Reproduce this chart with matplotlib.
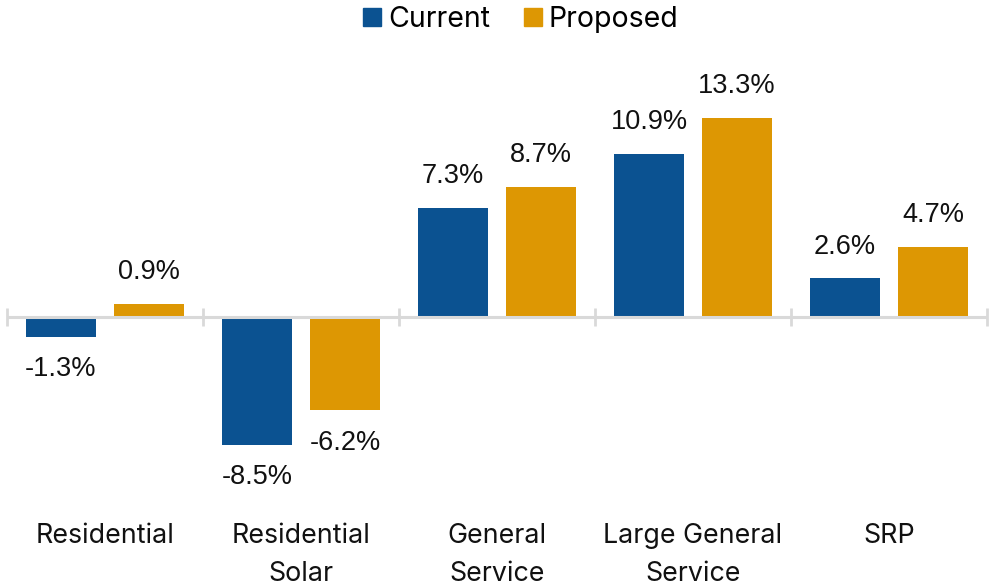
import matplotlib
matplotlib.use("Agg")
import matplotlib.pyplot as plt
from matplotlib.lines import Line2D
import numpy as np

categories = ["Residential", "Residential\nSolar", "General\nService", "Large General\nService", "SRP"]
current = [-1.3, -8.5, 7.3, 10.9, 2.6]
proposed = [0.9, -6.2, 8.7, 13.3, 4.7]
series_names = ["Current", "Proposed"]
colors = ["#0B5291", "#DD9703"]

cat_font = "Inter"
num_font = "Liberation Sans"

fig = plt.figure(figsize=(9.91, 5.85), dpi=100)
ax = fig.add_axes([7/991, (585-497)/585, 980/991, (497-62)/585])

x = np.arange(len(categories))
w = 0.357
off = 0.2245

for vals, dx, col in [(current, -off, colors[0]), (proposed, off, colors[1])]:
    ax.bar(x + dx, vals, width=w, color=col, zorder=2)
    for xi, v in zip(x + dx, vals):
        ax.annotate(f"{v:.1f}%", (xi, v), xytext=(0, 22.5 if v >= 0 else -23.5),
                    textcoords="offset points", ha="center", va="center",
                    fontsize=19.5, family=num_font, color="#111111")

ax.set_xlim(-0.5, len(categories) - 0.5)
ax.set_ylim(-12, 17)
ax.axhline(0, color="#D9D9D9", lw=2.2, zorder=3)
bounds = np.arange(len(categories) + 1) - 0.5
ax.plot(bounds, np.zeros_like(bounds), linestyle="none", marker="|", markersize=13,
        markeredgewidth=2, color="#D9D9D9", zorder=3, clip_on=False)

for s in ax.spines.values():
    s.set_visible(False)
ax.set_yticks([])
ax.set_xticks(x)
ax.set_xticklabels(categories, fontsize=19.3, family=cat_font, color="#111111", linespacing=1.6)
ax.tick_params(axis="x", length=0, pad=19)

handles = [Line2D([], [], marker="s", linestyle="none", markersize=13, color=c) for c in colors]
fig.legend(handles, series_names, loc="upper center", bbox_to_anchor=(518/991, 0.995),
           ncol=2, frameon=False, prop={"family": cat_font, "size": 20.5},
           handletextpad=0.05, columnspacing=1.0, handlelength=1.0, borderaxespad=0.0,
           borderpad=0.1)

fig.savefig("out.png", dpi=100)
